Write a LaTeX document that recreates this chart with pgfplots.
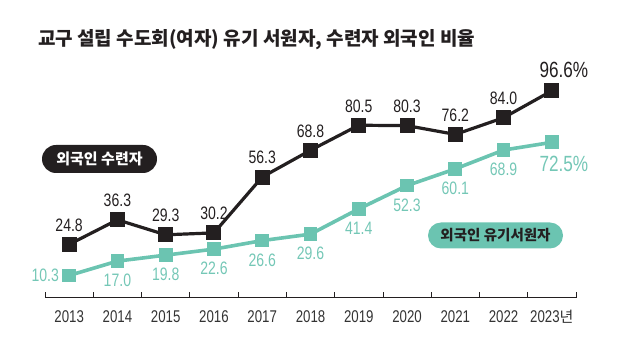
\documentclass[border=0pt]{standalone}
\usepackage{fontspec}
\usepackage{pgfplots}
\pgfplotsset{compat=1.18}
\usepackage{pgfplotstable}
\setmainfont{Liberation Sans}
\newfontfamily\numfont{Liberation Sans}[FakeStretch=0.78]
\newfontfamily\cjk{Noto Sans CJK KR}
\definecolor{blk}{HTML}{231F20}
\definecolor{tealL}{HTML}{6BC4B1}
\definecolor{tealT}{HTML}{74C7B6}
\definecolor{yr}{HTML}{333333}

\pgfplotstableread{
x y lab
0 24.8 24.8
1 36.3 36.3
2 29.3 29.3
3 30.2 30.2
4 56.3 56.3
5 68.8 68.8
6 80.5 80.5
7 80.3 80.3
8 76.2 76.2
9 84.0 84.0
10 96.6 {}
}\blackdata

\pgfplotstableread{
x y lab
0 10.3 {}
1 17.0 17.0
2 19.8 19.8
3 22.6 22.6
4 26.6 26.6
5 29.6 29.6
6 41.4 41.4
7 52.3 52.3
8 60.1 60.1
9 68.9 68.9
10 72.5 {}
}\tealdata

\begin{document}
\begin{tikzpicture}
\path[use as bounding box] (0,0) rectangle (640bp,358bp);
\begin{axis}[
  at={(45bp,60.5bp)}, anchor=south west,
  scale only axis, width=531bp, height=214bp,
  xmin=-0.5, xmax=10.5, ymin=0, ymax=100,
  axis x line=bottom, axis y line=none,
  axis line style={-, line width=1.6bp, blk},
  xtick={0,...,10},
  xticklabels={2013,2014,2015,2016,2017,2018,2019,2020,2021,2022,{2023{\cjk\fontsize{15bp}{16bp}\selectfont 년}}},
  major tick length=0pt,
  minor xtick={-0.5,0.5,...,10.5},
  minor tick length=5bp,
  xtick align=inside,
  tick style={blk, line width=0.8bp},
  clip=false,
  xticklabel style={font=\numfont\fontsize{17bp}{18bp}\selectfont, text=yr, inner sep=0pt, anchor=north, yshift=-12.5bp},
]
\addplot[blk, line width=3.2bp, mark=square*, mark size=7bp,
  mark options={solid, fill=blk, line width=0pt},
  point meta=explicit symbolic,
  nodes near coords,
  every node near coord/.append style={anchor=south, yshift=13bp, inner sep=0pt, text=blk, font=\numfont\fontsize{18bp}{19bp}\selectfont}]
  table[x=x, y=y, meta=lab] {\blackdata};
\addplot[tealL, line width=3.6bp, mark=square*, mark size=6.4bp,
  mark options={solid, fill=tealL, line width=0pt},
  point meta=explicit symbolic,
  nodes near coords,
  every node near coord/.append style={anchor=north, yshift=-13bp, inner sep=0pt, text=tealT, font=\numfont\fontsize{18bp}{19bp}\selectfont}]
  table[x=x, y=y, meta=lab] {\tealdata};
\node[anchor=east, inner sep=0pt, xshift=-10bp, text=tealT, font=\numfont\fontsize{18bp}{19bp}\selectfont] at (axis cs:0,10.3) {10.3};
\node[anchor=south, inner sep=0pt, xshift=12bp, yshift=12.5bp, text=blk, font=\numfont\fontsize{22bp}{23bp}\selectfont] at (axis cs:10,96.6) {96.6\%};
\node[anchor=north, inner sep=0pt, xshift=12bp, yshift=-14bp, text=tealT, font=\numfont\fontsize{22bp}{23bp}\selectfont] at (axis cs:10,72.5) {72.5\%};
\end{axis}
\node[anchor=west, inner sep=0pt, text=blk, font=\cjk\bfseries\fontsize{19bp}{21bp}\selectfont] at (38bp,318.5bp) {교구 설립 수도회(여자) 유기 서원자, 수련자 외국인 비율};
\node[fill=blk, rounded corners=14bp, minimum height=28bp, minimum width=115bp, inner sep=0pt, text=white, font=\cjk\bfseries\fontsize{15bp}{16bp}\selectfont] at (99.5bp,199bp) {외국인 수련자};
\node[fill=tealL, rounded corners=13bp, minimum height=26bp, minimum width=135bp, inner sep=0pt, text=blk, font=\cjk\bfseries\fontsize{14.5bp}{16bp}\selectfont] at (495.5bp,122.5bp) {외국인 유기서원자};
\end{tikzpicture}
\end{document}
